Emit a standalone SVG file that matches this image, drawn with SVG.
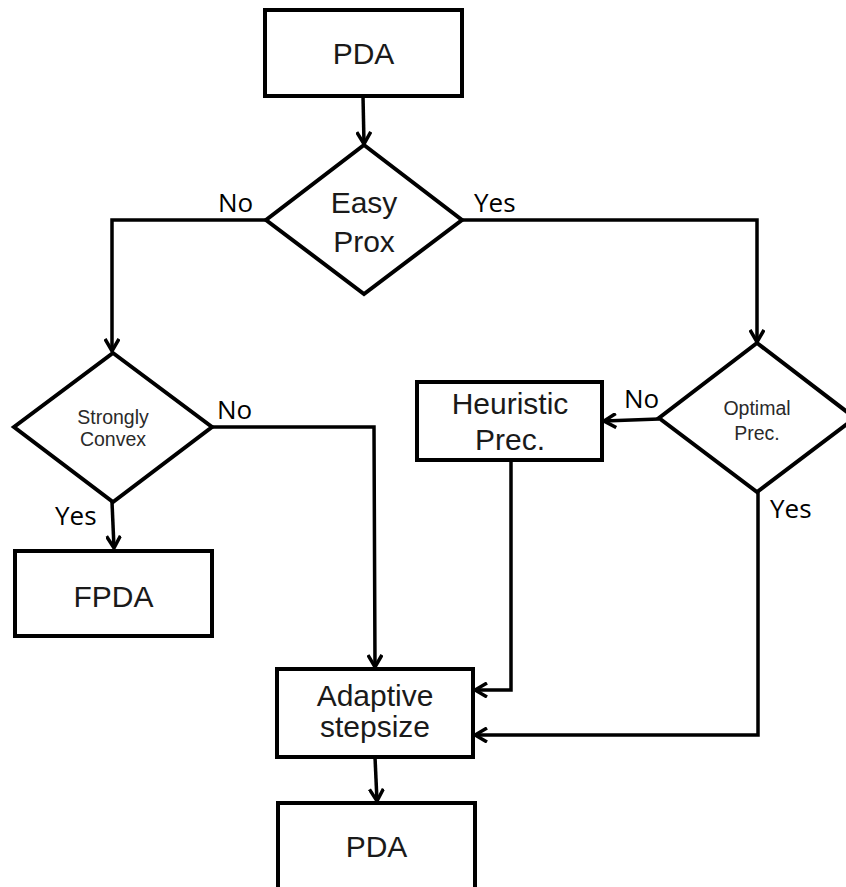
<svg xmlns="http://www.w3.org/2000/svg" width="846" height="887" viewBox="0 0 846 887">
<style>
.shape{fill:#fff;stroke:#000;stroke-width:4;stroke-linejoin:miter}
.conn{fill:none;stroke:#000;stroke-width:3.5;stroke-linejoin:miter}
.t{font-family:"Liberation Sans",Arial,sans-serif;font-size:30px;fill:#1a1a1a;text-anchor:middle}
.ts{font-family:"Liberation Sans",Arial,sans-serif;font-size:19.5px;fill:#2a2a2a;text-anchor:middle}
.lab{font-family:"Open Sans","Noto Sans",sans-serif;font-size:26px;fill:#000}
</style>
<defs>
<marker id="arr" viewBox="0 0 16 16" refX="14" refY="8" markerWidth="16" markerHeight="16" markerUnits="userSpaceOnUse" orient="auto">
<polyline points="2,1 14,8 2,15" fill="none" stroke="#000" stroke-width="3.5"/>
</marker>
</defs>
<g id="connectors">
<path class="conn" d="M363,96 L364,144" marker-end="url(#arr)"/>
<path class="conn" d="M266,220 L112,220 L112,351" marker-end="url(#arr)"/>
<path class="conn" d="M462,220 L757,220 L757,342" marker-end="url(#arr)"/>
<path class="conn" d="M112,502 L114,548" marker-end="url(#arr)"/>
<path class="conn" d="M212,427 L374,427 L375,667" marker-end="url(#arr)"/>
<path class="conn" d="M659,419 L604,421" marker-end="url(#arr)"/>
<path class="conn" d="M511,460 L511,690 L475,690" marker-end="url(#arr)"/>
<path class="conn" d="M757,492 L758,492 L758,735 L475,735" marker-end="url(#arr)"/>
<path class="conn" d="M375,757 L377,801" marker-end="url(#arr)"/>
</g>
<g id="pda_top">
<rect class="shape" x="265" y="10" width="197" height="86"/>
<text class="t" x="363.5" y="64">PDA</text>
</g>
<g id="easy_prox">
<polygon class="shape" points="364,145 462,220 364,294 266,220"/>
<text class="t" x="364" y="213">Easy</text>
<text class="t" x="364" y="252">Prox</text>
</g>
<g id="strongly_convex">
<polygon class="shape" points="113,353 212,427 113,502 14,427"/>
<text class="ts" x="113" y="424">Strongly</text>
<text class="ts" x="113" y="446">Convex</text>
</g>
<g id="fpda">
<rect class="shape" x="15" y="551" width="197" height="85"/>
<text class="t" x="113.5" y="607">FPDA</text>
</g>
<g id="optimal_prec">
<polygon class="shape" points="757,343 855,418 757,492 659,418"/>
<text class="ts" x="757" y="415">Optimal</text>
<text class="ts" x="757" y="440">Prec.</text>
</g>
<g id="heuristic_prec">
<rect class="shape" x="417" y="382" width="185" height="78"/>
<text class="t" x="510" y="414">Heuristic</text>
<text class="t" x="510" y="450">Prec.</text>
</g>
<g id="adaptive_stepsize">
<rect class="shape" x="277" y="669" width="196" height="88"/>
<text class="t" x="375" y="706">Adaptive</text>
<text class="t" x="375" y="737">stepsize</text>
</g>
<g id="pda_bottom">
<rect class="shape" x="278" y="803" width="197" height="88"/>
<text class="t" x="376.5" y="857">PDA</text>
</g>
<g id="labels">
<text class="lab" x="218" y="212">No</text>
<text class="lab" x="474" y="212">Yes</text>
<text class="lab" x="217" y="419">No</text>
<text class="lab" x="55" y="525">Yes</text>
<text class="lab" x="624" y="408">No</text>
<text class="lab" x="770" y="518">Yes</text>
</g>
</svg>
